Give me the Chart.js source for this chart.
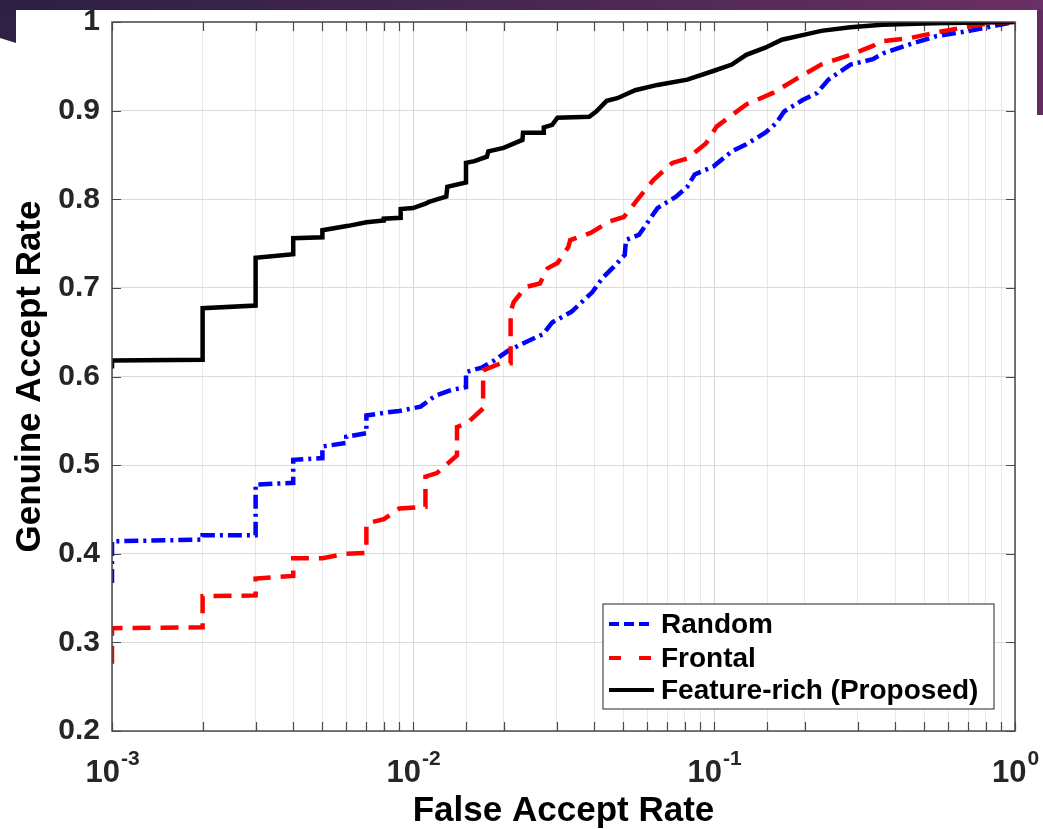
<!DOCTYPE html>
<html>
<head>
<meta charset="utf-8">
<script src="https://cdn.jsdelivr.net/npm/chart.js@4.4.0/dist/chart.umd.min.js"></script>
<style>
  html, body { margin: 0; padding: 0; background: #fff; }
  body { width: 1043px; height: 829px; position: relative; overflow: hidden; }
  #banner { position: absolute; left: 0; top: 0; width: 1043px; height: 10px;
            background: linear-gradient(90deg, #2b2042, #4a2852 55%, #6b2f65); }
  #leftTab { position: absolute; left: 0; top: 10px; width: 16px; height: 33px; background: #2d2145;
             clip-path: polygon(0 0, 100% 0, 100% 100%, 0 85%); }
  #rightTab { position: absolute; left: 1037px; top: 10px; width: 6px; height: 105px; background: #632c60; }
  #wrap { position: absolute; left: 0; top: 0; width: 1043px; height: 829px; }
</style>
</head>
<body>
<div id="wrap"><canvas id="roc" width="1043" height="829"></canvas></div>
<div id="banner"></div>
<div id="leftTab"></div>
<div id="rightTab"></div>
<script>
// ROC curves (FAR on a log axis, GAR linear)
const farRandom = [0.001, 0.001, 0.002, 0.002, 0.003, 0.003, 0.004, 0.004, 0.005, 0.005, 0.006, 0.006, 0.007, 0.007,
  0.008, 0.009, 0.0106, 0.0115, 0.012, 0.0135, 0.015, 0.015, 0.0169, 0.0186, 0.0207, 0.0231, 0.0271, 0.029, 0.0336,
  0.0394, 0.0426, 0.0465, 0.0505, 0.051, 0.0564, 0.0591, 0.0649, 0.0748, 0.0815, 0.0863, 0.0995, 0.1146, 0.128,
  0.148, 0.161, 0.171, 0.197, 0.22, 0.24, 0.284, 0.337, 0.367, 0.449, 0.547, 0.706, 0.863, 1];
const garRandom = [0.367, 0.414, 0.416, 0.421, 0.421, 0.478, 0.480, 0.506, 0.508, 0.521, 0.525, 0.532, 0.536, 0.556,
  0.559, 0.561, 0.566, 0.575, 0.579, 0.585, 0.588, 0.605, 0.610, 0.618, 0.629, 0.637, 0.648, 0.661, 0.673,
  0.695, 0.711, 0.724, 0.737, 0.754, 0.760, 0.770, 0.790, 0.803, 0.814, 0.828, 0.837, 0.854, 0.862,
  0.875, 0.886, 0.899, 0.912, 0.920, 0.935, 0.952, 0.958, 0.965, 0.975, 0.984, 0.990, 0.996, 1];

const farFrontal = [0.001, 0.001, 0.002, 0.002, 0.003, 0.003, 0.004, 0.004, 0.005, 0.006, 0.007, 0.007, 0.008, 0.009,
  0.011, 0.011, 0.012, 0.014, 0.014, 0.0151, 0.0171, 0.0171, 0.0196, 0.0211, 0.0211, 0.0216, 0.0237, 0.0264, 0.028,
  0.0302, 0.0328, 0.0333, 0.0389, 0.0449, 0.0502, 0.0555, 0.063, 0.0727, 0.0815, 0.094, 0.102, 0.128, 0.157, 0.186,
  0.227, 0.284, 0.337, 0.357, 0.449, 0.563, 0.706, 0.837, 1];
const garFrontal = [0.276, 0.316, 0.317, 0.352, 0.353, 0.372, 0.375, 0.395, 0.395, 0.400, 0.401, 0.434, 0.439, 0.451,
  0.453, 0.487, 0.491, 0.511, 0.543, 0.547, 0.564, 0.607, 0.615, 0.615, 0.673, 0.684, 0.701, 0.705, 0.722,
  0.728, 0.746, 0.754, 0.762, 0.775, 0.780, 0.799, 0.822, 0.841, 0.846, 0.863, 0.882, 0.907, 0.920, 0.935,
  0.952, 0.963, 0.973, 0.978, 0.982, 0.989, 0.995, 0.999, 1];

const farProposed = [0.001, 0.001, 0.002, 0.002, 0.003, 0.003, 0.004, 0.004, 0.005, 0.005, 0.0061, 0.007, 0.008, 0.008,
  0.0091, 0.0091, 0.01, 0.011, 0.0113, 0.0129, 0.013, 0.015, 0.015, 0.016, 0.0176, 0.0178, 0.020, 0.0231, 0.0232,
  0.0271, 0.0272, 0.029, 0.0302, 0.0385, 0.0406, 0.044, 0.0477, 0.0547, 0.0649, 0.0815, 0.1, 0.1146, 0.128, 0.148,
  0.168, 0.202, 0.227, 0.284, 0.362, 0.532, 1];
const garProposed = [0.609, 0.618, 0.619, 0.677, 0.680, 0.734, 0.738, 0.756, 0.757, 0.765, 0.770, 0.774, 0.776, 0.778,
  0.779, 0.789, 0.790, 0.795, 0.797, 0.803, 0.814, 0.819, 0.841, 0.843, 0.848, 0.854, 0.858, 0.867, 0.875,
  0.875, 0.881, 0.884, 0.892, 0.893, 0.899, 0.911, 0.914, 0.923, 0.929, 0.935, 0.945, 0.952, 0.963, 0.971,
  0.980, 0.986, 0.990, 0.994, 0.997, 0.9985, 1];

const seriesNames = ['Random', 'Frontal', 'Feature-rich (Proposed)'];
const xMajorTicks = [0.001, 0.01, 0.1, 1];
const xTickExponents = ['-3', '-2', '-1', '0'];

const FONT = '"Liberation Sans", Arial, sans-serif';

function toPoints(xs, ys) {
  return xs.map((x, i) => ({ x: x, y: ys[i] }));
}

// box, inward ticks, x labels with exponents, legend
const matlabAxes = {
  id: 'matlabAxes',
  beforeDatasetsDraw(chart) {
    const { ctx, chartArea: a, scales: { x, y } } = chart;
    ctx.save();
    ctx.strokeStyle = '#4a4a4a';
    ctx.lineWidth = 1.2;
    ctx.beginPath();
    x.ticks.forEach(t => {
      const px = Math.round(x.getPixelForValue(t.value)) + 0.5;
      ctx.moveTo(px, a.bottom); ctx.lineTo(px, a.bottom - 9);
      ctx.moveTo(px, a.top); ctx.lineTo(px, a.top + 9);
    });
    y.ticks.forEach(t => {
      const py = Math.round(y.getPixelForValue(t.value)) + 0.5;
      ctx.moveTo(a.left, py); ctx.lineTo(a.left + 9, py);
      ctx.moveTo(a.right, py); ctx.lineTo(a.right - 9, py);
    });
    ctx.stroke();
    ctx.restore();
  },
  afterDraw(chart) {
    const { ctx, chartArea: a, scales: { x } } = chart;
    ctx.save();
    ctx.strokeStyle = '#4a4a4a';
    ctx.lineWidth = 1.5;
    ctx.strokeRect(a.left, a.top, a.right - a.left, a.bottom - a.top);

    // x tick labels: 10 with a raised exponent
    ctx.fillStyle = '#262626';
    ctx.textBaseline = 'alphabetic';
    xMajorTicks.forEach((v, i) => {
      const px = x.getPixelForValue(v);
      ctx.font = 'bold 31px ' + FONT;
      const wBase = ctx.measureText('10').width;
      ctx.font = 'bold 21px ' + FONT;
      const wExp = ctx.measureText(xTickExponents[i]).width;
      const left = px - (wBase + wExp) / 2;
      ctx.font = 'bold 31px ' + FONT;
      ctx.textAlign = 'left';
      ctx.fillText('10', left, a.bottom + 51);
      ctx.font = 'bold 21px ' + FONT;
      ctx.fillText(xTickExponents[i], left + wBase + 1, a.bottom + 34);
    });

    // legend box
    const bx = a.right - 412, by = a.bottom - 127, bw = 391, bh = 105;
    ctx.fillStyle = '#fff';
    ctx.fillRect(bx, by, bw, bh);
    ctx.strokeStyle = '#4a4a4a';
    ctx.lineWidth = 1.2;
    ctx.strokeRect(bx, by, bw, bh);
    const rows = [20, 54, 86];
    chart.data.datasets.forEach((ds, i) => {
      const ry = by + rows[i];
      ctx.save();
      ctx.strokeStyle = ds.borderColor;
      ctx.lineWidth = 4;
      ctx.setLineDash(ds.legendDash);
      ctx.beginPath();
      ctx.moveTo(bx + 6, ry);
      ctx.lineTo(bx + 51, ry);
      ctx.stroke();
      ctx.restore();
      ctx.fillStyle = '#000';
      ctx.font = 'bold 28px ' + FONT;
      ctx.textAlign = 'left';
      ctx.textBaseline = 'middle';
      ctx.fillText(ds.label, bx + 58, ry + 1);
    });
    ctx.restore();
  }
};

const ctx = document.getElementById('roc').getContext('2d');
const chart = new Chart(ctx, {
  type: 'line',
  data: {
    datasets: [{
      label: seriesNames[0],
      data: toPoints(farRandom, garRandom),
      borderColor: '#0000ff',
      borderWidth: 4.5,
      borderDash: [14, 5, 3, 5],
      legendDash: [10, 5, 10, 5],
      order: 2
    }, {
      label: seriesNames[1],
      data: toPoints(farFrontal, garFrontal),
      borderColor: '#ff0000',
      borderWidth: 4.5,
      borderDash: [18, 10],
      legendDash: [12, 18],
      order: 1
    }, {
      label: seriesNames[2],
      data: toPoints(farProposed, garProposed),
      borderColor: '#000000',
      borderWidth: 4.5,
      legendDash: [],
      order: 0
    }]
  },
  options: {
    responsive: false,
    animation: false,
    elements: { point: { radius: 0 }, line: { tension: 0, fill: false } },
    layout: { padding: { top: 22, right: 28, left: 0, bottom: 0 } },
    plugins: { legend: { display: false }, tooltip: { enabled: false } },
    scales: {
      x: {
        type: 'logarithmic',
        min: 0.001,
        max: 1,
        afterFit: s => { s.height = 98; s.paddingLeft = 0; s.paddingRight = 0; },
        ticks: { callback: () => '', autoSkip: false, maxRotation: 0 },
        grid: {
          color: c => (c.tick && c.tick.major) ? '#d6d6d6' : '#e8e8e8',
          borderDash: c => (c.tick && c.tick.major) ? [] : [2, 2],
          drawTicks: false
        },
        border: { display: false },
        title: {
          display: true,
          text: 'False Accept Rate',
          color: '#000',
          font: { family: FONT, size: 35, weight: 'bold', lineHeight: 1 },
          padding: 0
        }
      },
      y: {
        min: 0.2,
        max: 1,
        afterFit: s => { s.width = 112; s.paddingTop = 0; s.paddingBottom = 0; },
        ticks: {
          stepSize: 0.1,
          padding: 12,
          color: '#262626',
          font: { family: FONT, size: 30, weight: 'bold' },
          callback: v => (Math.abs(v - 1) < 1e-9 ? '1' : v.toFixed(1))
        },
        grid: { color: '#dadada', drawTicks: false },
        border: { display: false },
        title: {
          display: true,
          text: 'Genuine Accept Rate',
          color: '#000',
          font: { family: FONT, size: 35, weight: 'bold', lineHeight: 1 },
          padding: { top: 13, bottom: 0 }
        }
      }
    }
  },
  plugins: [matlabAxes]
});
</script>
</body>
</html>
